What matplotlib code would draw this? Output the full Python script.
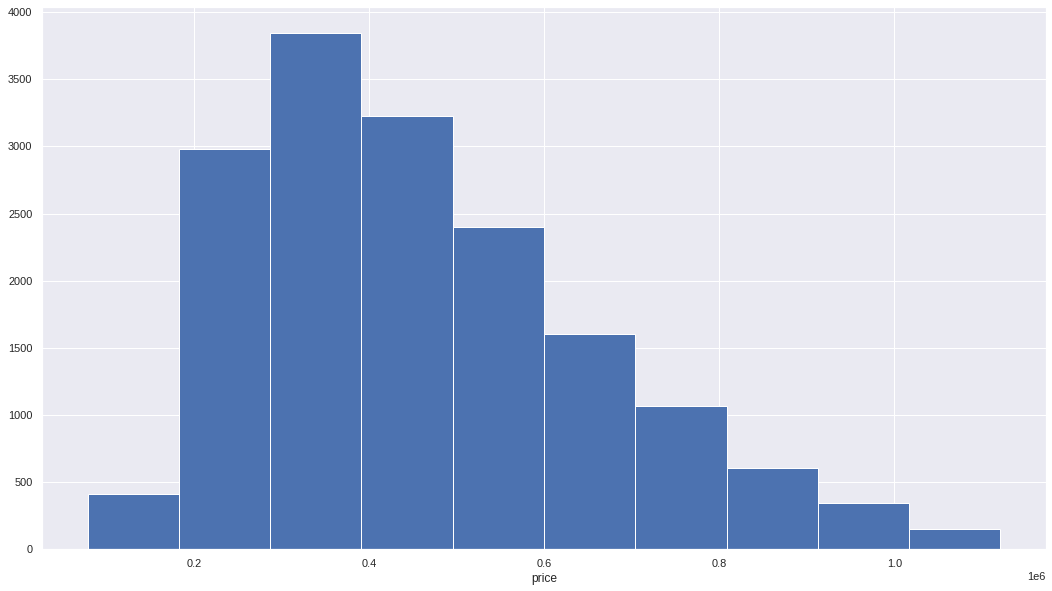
import matplotlib
matplotlib.use("Agg")
import matplotlib.pyplot as plt
import numpy as np
import seaborn as sns

sns.set_theme()
plt.rcParams['font.family'] = ['Liberation Sans', 'DejaVu Sans']

# histogram of price, 10 bins
bin_edges = [78000, 182300, 286600, 390900, 495200, 599500,
             703800, 808100, 912400, 1016700, 1121000]
counts = [415, 2983, 3848, 3230, 2401, 1602, 1068, 605, 345, 150]

fig = plt.figure(figsize=(1052 / 72, 591 / 72), dpi=72)
ax = fig.add_axes([0.0399, 0.0706, 0.9544, 0.9180])

edges = np.array(bin_edges)
ax.bar(edges[:-1], counts, width=np.diff(edges), align="edge",
       color="#4C72B0", edgecolor="white", linewidth=1)
ax.set_xlabel("price")

fig.savefig("out.png", dpi=72)
